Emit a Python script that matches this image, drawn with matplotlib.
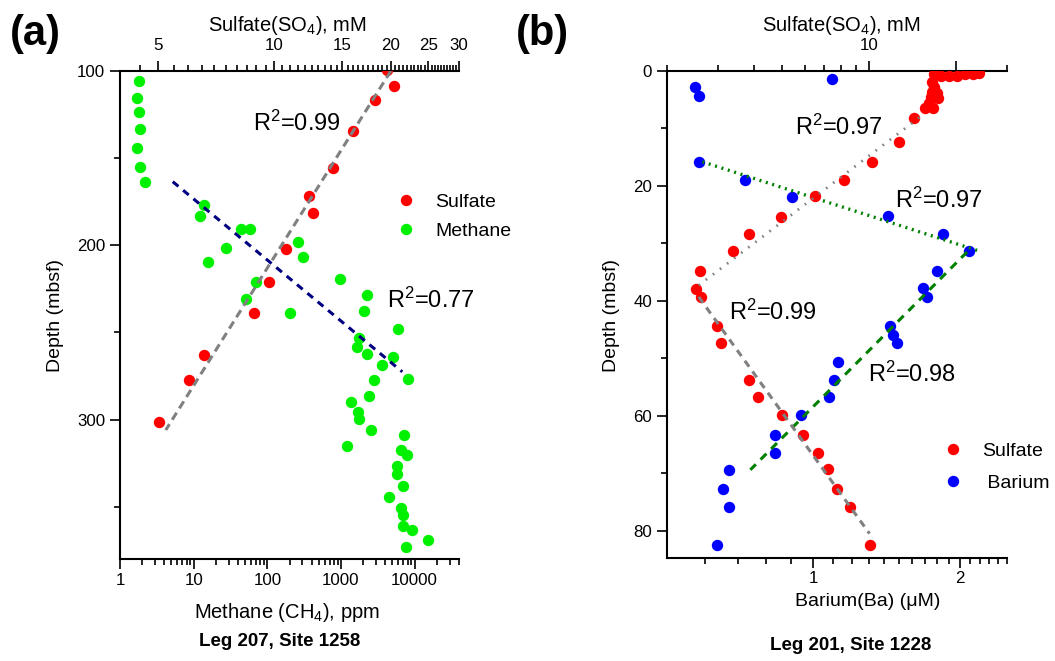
import matplotlib
matplotlib.use("Agg")
import matplotlib.pyplot as plt
from matplotlib.lines import Line2D
from matplotlib.ticker import NullFormatter
import numpy as np

plt.rcParams['font.family'] = ['Liberation Sans', 'DejaVu Sans']
plt.rcParams['mathtext.fontset'] = 'custom'
plt.rcParams['mathtext.rm'] = 'Liberation Sans'
plt.rcParams['mathtext.it'] = 'Liberation Sans:italic'
plt.rcParams['mathtext.bf'] = 'Liberation Sans:bold'
plt.rcParams['mathtext.default'] = 'rm'

# ---------------- Panel (a): Leg 207, Site 1258 ----------------
a_sulfate_mM = [19.6, 20.4, 18.2, 16.0, 14.15, 12.3, 12.6, 10.75, 9.7, 8.87, 6.58, 6.04, 5.05]
a_sulfate_depth = [99.5, 108.6, 116.6, 134.3, 155.5, 171.6, 181.3, 202.2, 221.0, 238.9, 263.0, 277.4, 301.5]

a_methane_ppm = [1.81, 1.69, 1.80, 1.87, 1.70, 1.87, 2.19, 14.0, 12.3, 44.3, 58.7, 27.4, 15.6,
                 262, 306, 70.2, 51.8, 206, 975, 2271, 2043, 5929, 1769, 1661, 2223, 5130,
                 3556, 8206, 2830, 2390, 1359, 1676, 1746, 2518, 1225, 7149, 6452, 7787,
                 5690, 5810, 7020, 4527, 6590, 7020, 7020, 9186, 15170, 7620]
a_methane_depth = [105.7, 115.3, 123.5, 133.1, 144.2, 155.3, 163.5, 176.7, 183.1, 190.9, 190.5,
                   201.8, 209.8, 198.3, 206.6, 221.0, 230.9, 238.9, 219.4, 228.8, 237.9, 248.3,
                   253.4, 258.6, 262.5, 264.0, 268.8, 276.8, 277.4, 286.4, 290.0, 295.8, 299.6,
                   305.7, 315.3, 309.0, 317.6, 320.6, 326.6, 331.5, 338.1, 344.7, 350.5, 354.5,
                   361.2, 363.5, 369.2, 373.4]

a_sulfate_fit_mM = [20.0, 5.25]
a_sulfate_fit_depth = [100.0, 306.0]
a_methane_fit_ppm = [5.2, 6800.0]
a_methane_fit_depth = [163.5, 272.6]
a_r2_labels = ["R$^2$=0.99", "R$^2$=0.77"]

a_top_ticks = [5, 10, 15, 20, 25, 30]
a_bottom_ticks = [1, 10, 100, 1000, 10000]
a_depth_ticks = [100, 200, 300]
a_depth_minor = [150, 250, 350]

# ---------------- Panel (b): Leg 201, Site 1228 ----------------
b_sulfate_mM = [16.8, 17.8, 19.0, 20.2, 21.5, 23.0, 24.1,
                16.6, 16.8, 16.6, 17.2, 16.4, 16.1, 17.3, 15.7, 16.7,
                14.3, 12.76, 10.3, 8.23, 6.50, 4.98, 3.85, 3.38, 2.60, 2.52, 2.62,
                2.98, 3.08, 3.86, 4.13, 5.03, 5.90, 6.67, 7.22, 7.78, 8.58, 10.06]
b_sulfate_depth = [0.6, 0.8, 0.9, 0.8, 0.6, 0.5, 0.35,
                   1.9, 2.7, 3.6, 3.9, 4.5, 5.5, 4.75, 6.4, 6.5,
                   8.1, 12.3, 15.8, 18.9, 21.7, 25.4, 28.3, 31.3, 34.8, 37.9, 39.4,
                   44.3, 47.3, 53.8, 56.8, 59.9, 63.4, 66.4, 69.3, 72.8, 75.8, 82.4]

b_barium_uM = [0.573, 0.583, 1.094, 0.583, 0.724, 0.906, 1.423, 1.849, 2.094, 1.794, 1.682,
               1.714, 1.437, 1.457, 1.488, 1.126, 1.102, 1.077, 0.942, 0.833, 0.833, 0.671,
               0.653, 0.671, 0.633]
b_barium_depth = [2.84, 4.36, 1.45, 15.8, 18.9, 21.9, 25.3, 28.3, 31.3, 34.8, 37.8,
                  39.3, 44.4, 46.0, 47.3, 50.6, 53.8, 56.8, 59.9, 63.4, 66.4, 69.4,
                  72.8, 75.8, 82.4]

b_sulfate_fit1_mM = [2.58, 15.35]
b_sulfate_fit1_depth = [37.3, 7.67]
b_sulfate_fit2_mM = [2.58, 10.06]
b_sulfate_fit2_depth = [39.3, 80.5]
b_barium_fit1_uM = [0.592, 2.188]
b_barium_fit1_depth = [15.8, 31.3]
b_barium_fit2_uM = [2.072, 0.743]
b_barium_fit2_depth = [31.5, 69.4]
b_r2_labels = ["R$^2$=0.97", "R$^2$=0.97", "R$^2$=0.99", "R$^2$=0.98"]

b_top_ticks = [10, 20]
b_top_labels = ["10", ""]
b_top_minor = [2, 3, 4, 5, 6, 7, 8, 9, 30]
b_bottom_ticks = [1, 2]
b_bottom_minor = [0.6, 0.7, 0.8, 0.9, 1.1, 1.2, 1.3, 1.4, 1.5, 1.6, 1.7, 1.8, 1.9,
                  2.1, 2.2, 2.3, 2.4, 2.5]
b_depth_ticks = [0, 20, 40, 60, 80]
b_depth_minor = [10, 30, 50, 70]

# ---------------- figure ----------------
W, H = 1055, 661
fig = plt.figure(figsize=(W / 100, H / 100), dpi=100)


def fx(px):
    return px / W


def fy(py):
    return 1 - py / H


RED = '#ff0000'
GREEN = '#00f000'
BLUE = '#0000ff'
GRAY = '#808080'
NAVY = '#000080'
DGREEN = '#008000'
MS = 8.2
TICK_FS = 12.2
LAB_FS = 14
TITLE_FS = 14.5
R2_FS = 17


def style_axes(ax, top):
    for s in ['top', 'right']:
        ax.spines[s].set_visible(False)
    for s in ['left', 'bottom']:
        ax.spines[s].set_linewidth(1.5)
    for s in ['left', 'right', 'bottom']:
        top.spines[s].set_visible(False)
    top.spines['top'].set_linewidth(1.5)
    ax.tick_params(which='major', direction='out', length=7, width=1.2, labelsize=TICK_FS)
    ax.tick_params(which='minor', direction='out', length=4, width=1.2)
    ax.tick_params(axis='x', which='major', pad=3.4)
    ax.tick_params(axis='y', which='major', pad=3.6)
    top.tick_params(which='major', direction='out', length=7, width=1.2, labelsize=TICK_FS, pad=6.0)
    top.tick_params(which='minor', direction='out', length=4, width=1.2)
    ax.patch.set_alpha(0)
    top.patch.set_alpha(0)


# ----- Panel (a) -----
axA = fig.add_axes([fx(120), fy(559), fx(459) - fx(120), fy(71) - fy(559)])
axA_top = axA.twiny()
style_axes(axA, axA_top)

axA.set_xscale('log')
axA.set_xlim(1, 40000)
axA.set_ylim(380, 100)
axA.set_xticks(a_bottom_ticks, labels=[str(t) for t in a_bottom_ticks])
axA.set_xticks([m * 10 ** e for e in range(0, 5) for m in range(2, 10) if m * 10 ** e <= 40000],
               minor=True)
axA.xaxis.set_minor_formatter(NullFormatter())
axA.set_yticks(a_depth_ticks, labels=[str(t) for t in a_depth_ticks])
axA.set_yticks(a_depth_minor, minor=True)

axA_top.set_xscale('log')
axA_top.set_xlim(4, 30)
axA_top.set_xticks(a_top_ticks, labels=[str(t) for t in a_top_ticks])
axA_top.set_xticks([v for v in np.arange(4.5, 30.0, 0.5) if v not in a_top_ticks], minor=True)
axA_top.xaxis.set_minor_formatter(NullFormatter())

axA.plot(a_methane_ppm, a_methane_depth, 'o', color=GREEN, ms=MS, mec='none', zorder=3)
axA.plot(a_methane_fit_ppm, a_methane_fit_depth, color=NAVY, lw=2.2,
         ls=(0, (2.4, 2.0)), zorder=4)
axA_top.plot(a_sulfate_mM, a_sulfate_depth, 'o', color=RED, ms=MS, mec='none', zorder=3)
axA_top.plot(a_sulfate_fit_mM, a_sulfate_fit_depth, color=GRAY, lw=2.2,
             ls=(0, (2.7, 1.7)), zorder=4)

fig.text(fx(252.7), fy(130.7), a_r2_labels[0], fontsize=R2_FS, ha='left', va='baseline')
fig.text(fx(387.3), fy(308), a_r2_labels[1], fontsize=R2_FS, ha='left', va='baseline')

legA = axA_top.legend(
    [Line2D([], [], ls='', marker='o', color=RED, ms=MS, mec='none'),
     Line2D([], [], ls='', marker='o', color=GREEN, ms=MS, mec='none')],
    ['Sulfate', 'Methane'], loc='center left', bbox_to_anchor=(fx(396.3), fy(216.5)),
    bbox_transform=fig.transFigure, frameon=False, fontsize=LAB_FS, handlelength=1.0,
    handletextpad=1.0, labelspacing=0.58, borderpad=0, borderaxespad=0)

fig.text(fx(287.5), fy(31), 'Sulfate(SO$_4$), mM', fontsize=TITLE_FS, ha='center', va='baseline')
fig.text(fx(286.7), fy(618), 'Methane (CH$_4$), ppm', fontsize=TITLE_FS, ha='center', va='baseline')
fig.text(fx(280), fy(646), 'Leg 207, Site 1258', fontsize=13.5, fontweight='bold',
         ha='center', va='baseline')
fig.text(fx(55), fy(315), 'Depth (mbsf)', fontsize=LAB_FS, rotation=90, ha='center', va='center')
fig.text(fx(10), fy(45), '(a)', fontsize=30, fontweight='bold', ha='left', va='baseline')

# ----- Panel (b) -----
axB = fig.add_axes([fx(666.7), fy(558.3), fx(1006.7) - fx(666.7), fy(71) - fy(558.3)])
axB_top = axB.twiny()
style_axes(axB, axB_top)

axB.set_xscale('log')
axB.set_xlim(0.5, 2.5)
axB.set_ylim(84.8, 0)
axB.set_xticks(b_bottom_ticks, labels=[str(t) for t in b_bottom_ticks])
axB.set_xticks(b_bottom_minor, minor=True)
axB.xaxis.set_minor_formatter(NullFormatter())
axB.tick_params(axis='x', which='major', pad=2.0)
axB.set_yticks(b_depth_ticks, labels=[str(t) for t in b_depth_ticks])
axB.set_yticks(b_depth_minor, minor=True)

axB_top.set_xscale('log')
axB_top.set_xlim(2, 30)
axB_top.set_xticks(b_top_ticks, labels=b_top_labels)
axB_top.set_xticks(b_top_minor, minor=True)
axB_top.xaxis.set_minor_formatter(NullFormatter())

axB.plot(b_barium_uM, b_barium_depth, 'o', color=BLUE, ms=MS, mec='none', zorder=3)
axB.plot(b_barium_fit1_uM, b_barium_fit1_depth, color=DGREEN, lw=2.4,
         ls=(0, (0.6, 1.4)), zorder=4)
axB.plot(b_barium_fit2_uM, b_barium_fit2_depth, color=DGREEN, lw=2.2,
         ls=(0, (2.7, 2.2)), zorder=4)
axB_top.plot(b_sulfate_mM, b_sulfate_depth, 'o', color=RED, ms=MS, mec='none', zorder=3)
axB_top.plot(b_sulfate_fit1_mM, b_sulfate_fit1_depth, color=GRAY, lw=2.0,
             ls=(0, (0.6, 2.6)), zorder=4)
axB_top.plot(b_sulfate_fit2_mM, b_sulfate_fit2_depth, color=GRAY, lw=2.2,
             ls=(0, (2.4, 1.9)), zorder=4)

fig.text(fx(795), fy(135), b_r2_labels[0], fontsize=R2_FS, ha='left', va='baseline')
fig.text(fx(895), fy(208.3), b_r2_labels[1], fontsize=R2_FS, ha='left', va='baseline')
fig.text(fx(729.3), fy(320), b_r2_labels[2], fontsize=R2_FS, ha='left', va='baseline')
fig.text(fx(868.3), fy(381.7), b_r2_labels[3], fontsize=R2_FS, ha='left', va='baseline')

legB = axB_top.legend(
    [Line2D([], [], ls='', marker='o', color=RED, ms=MS, mec='none'),
     Line2D([], [], ls='', marker='o', color=BLUE, ms=MS, mec='none')],
    ['Sulfate', ' Barium'], loc='center left', bbox_to_anchor=(fx(943), fy(467)),
    bbox_transform=fig.transFigure, frameon=False, fontsize=LAB_FS, handlelength=1.0,
    handletextpad=1.0, labelspacing=0.75, borderpad=0, borderaxespad=0)

fig.text(fx(841.7), fy(31), 'Sulfate(SO$_4$), mM', fontsize=TITLE_FS, ha='center', va='baseline')
fig.text(fx(867.5), fy(606), 'Barium(Ba) (μM)', fontsize=LAB_FS, ha='center', va='baseline')
fig.text(fx(851), fy(650), 'Leg 201, Site 1228', fontsize=13.5, fontweight='bold',
         ha='center', va='baseline')
fig.text(fx(611), fy(316), 'Depth (mbsf)', fontsize=LAB_FS, rotation=90, ha='center', va='center')
fig.text(fx(516), fy(45), '(b)', fontsize=30, fontweight='bold', ha='left', va='baseline')

fig.savefig('out.png', dpi=100)
